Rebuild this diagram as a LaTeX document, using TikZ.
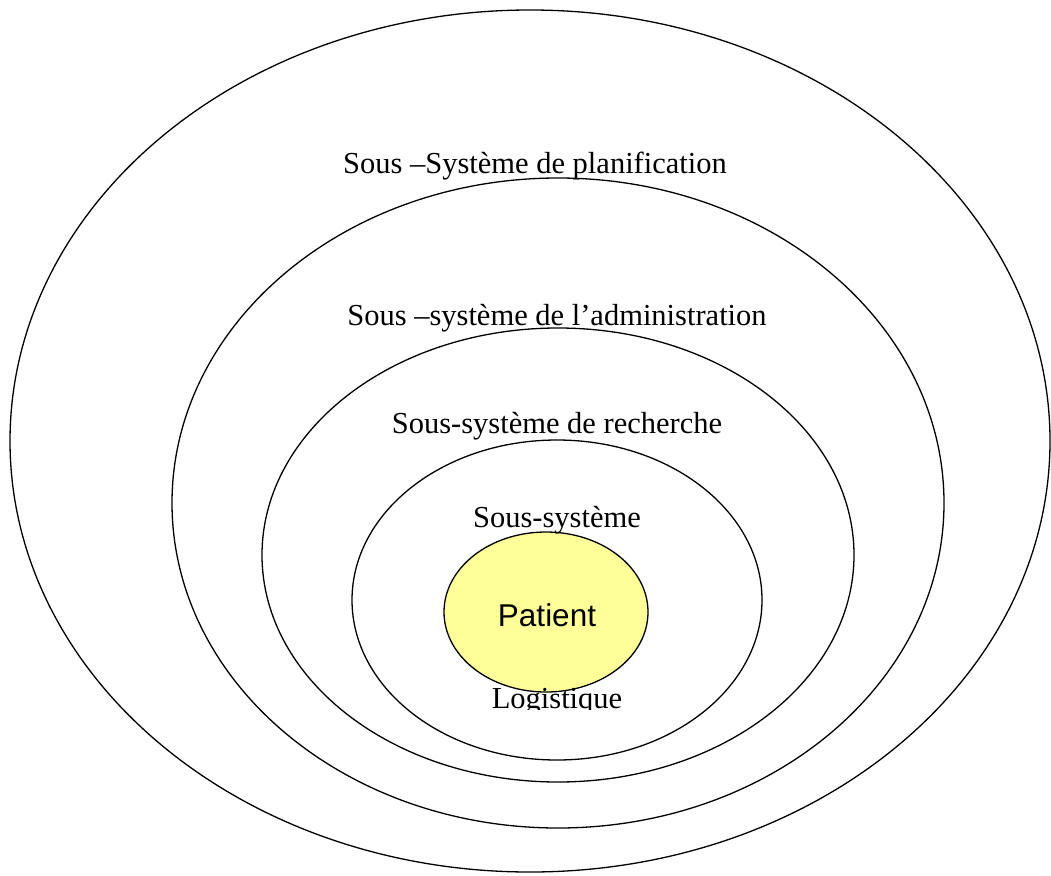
\documentclass[tikz,border=0pt]{standalone}
\usepackage{fontspec}
\setmainfont{Liberation Serif}
\newfontfamily\patfont{Liberation Sans}
\definecolor{patfill}{HTML}{FFFF99}
\begin{document}
\begin{tikzpicture}[x=1pt,y=-1pt,
  ring/.style={draw=black,line width=1.3pt},
  lbl/.style={anchor=base,inner sep=0pt,font=\fontsize{30.5}{34}\selectfont}]
\useasboundingbox (0,0) rectangle (1051,875);
\draw[ring] (530,441) ellipse [x radius=520,y radius=431];
\draw[ring] (558,503) ellipse [x radius=386,y radius=325];
\draw[ring] (558,555) ellipse [x radius=296,y radius=227];
\draw[ring] (557,600) ellipse [x radius=205,y radius=160];
\draw[ring,fill=patfill] (546,612) ellipse [x radius=102,y radius=80];
\node[lbl] (plan) at (535,173) {Sous –Système de planification};
\node[lbl] (admin) at (557,325) {Sous –système de l’administration};
\node[lbl] (rech) at (557,433) {Sous-système de recherche};
\node[lbl] (ss) at (557,527) {Sous-système};
\node[anchor=base,inner sep=0pt,font=\patfont\fontsize{31.5}{36}\selectfont] (pat) at (547,626) {Patient};
\begin{scope}
\clip (400,650) rectangle (700,709);
\node[lbl] (log) at (557,708) {Logistique};
\end{scope}
\end{tikzpicture}
\end{document}
